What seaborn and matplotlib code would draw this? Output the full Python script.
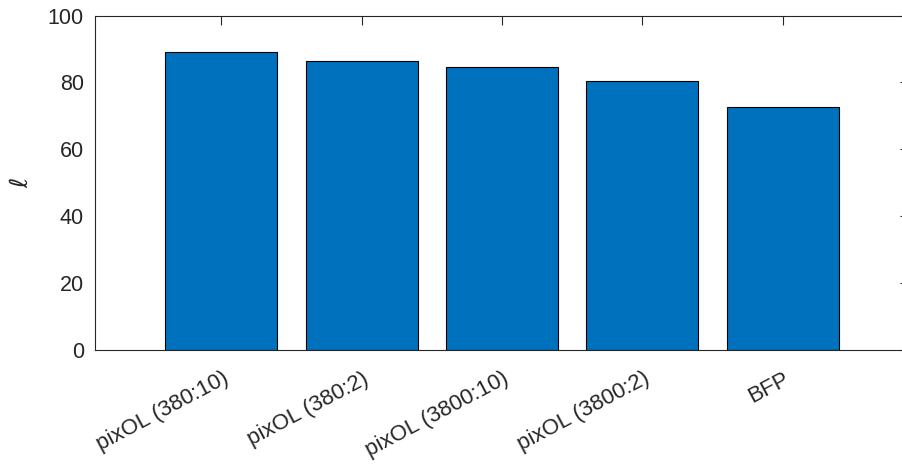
import matplotlib
matplotlib.use("Agg")
import pandas as pd
import seaborn as sns
from matplotlib import pyplot as plt
from matplotlib import transforms

# values
methods = ["pixOL (380:10)", "pixOL (380:2)", "pixOL (3800:10)", "pixOL (3800:2)", "BFP"]
ell = [89.2, 86.5, 84.6, 80.5, 72.6]
yticks = [0, 20, 40, 60, 80, 100]

df = pd.DataFrame({"method": methods, "ell": ell})

sns.set_style("white")
plt.rcParams["font.family"] = ["Liberation Sans", "DejaVu Sans"]
plt.rcParams["mathtext.fontset"] = "dejavusans"

fig = plt.figure(figsize=(9.03, 4.68), dpi=100)
ax = fig.add_axes([0.1052, 0.2528, 0.9014, 0.7137])

sns.barplot(data=df, x="method", y="ell", color="#0072BD", saturation=1,
            edgecolor="black", linewidth=0.8, width=0.8, ax=ax)

ax.set_xlim(-0.9, 4.9)
ax.set_ylim(0, 100)
ax.set_yticks(yticks)
ax.set_xlabel("")
ax.set_ylabel(r"$\ell$", fontsize=18, color="#262626", labelpad=11)

for s in ax.spines.values():
    s.set_color("#262626")
    s.set_linewidth(0.8)

ax.tick_params(direction="in", top=True, right=True, length=6.5, width=0.8,
               color="#262626", labelsize=15.5, labelcolor="#262626", pad=8)
ax.tick_params(axis="x", pad=20, labelsize=16)
shift = transforms.ScaledTranslation(4 / 72, 0, fig.dpi_scale_trans)
for lab in ax.get_xticklabels():
    lab.set_rotation(28)
    lab.set_ha("right")
    lab.set_va("center")
    lab.set_rotation_mode("anchor")
    lab.set_transform(lab.get_transform() + shift)

fig.savefig("out.png", dpi=100)
